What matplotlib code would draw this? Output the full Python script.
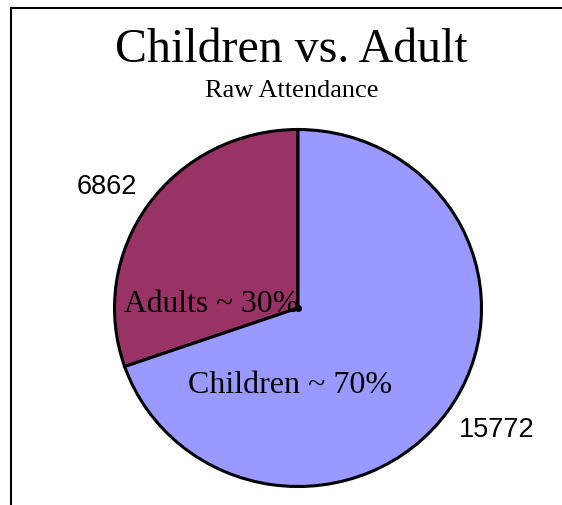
import matplotlib.pyplot as plt
from matplotlib.lines import Line2D

# Data
groups = ["Adults", "Children"]
attendance = [6862, 15772]
colors = ["#993366", "#9999FF"]
inner_labels = ["Adults ~ 30%", "Children ~ 70%"]

W, H = 562, 505
fig = plt.figure(figsize=(W / 100, H / 100), dpi=100)
fig.patch.set_facecolor("white")

# pie centre and radii in pixels (slightly squashed ellipse in the original)
cx, cy, Rx, Ry = 298, 308, 183.5, 178.5
ax = fig.add_axes([(cx - Rx) / W, (H - cy - Ry) / H, 2 * Rx / W, 2 * Ry / H])

wedges, _ = ax.pie(attendance, colors=colors, startangle=90, counterclock=True,
                   wedgeprops=dict(edgecolor="black", linewidth=2.2))
ax.set_aspect("auto")
ax.set_xlim(-1, 1)
ax.set_ylim(-1, 1)
ax.axis("off")

# value labels outside the pie
ax.text(-1.04, 0.68, str(attendance[0]), ha="center", va="center",
        fontsize=19.5, family="Liberation Sans")
ax.text(1.085, -0.685, str(attendance[1]), ha="center", va="center",
        fontsize=19.5, family="Liberation Sans")

# slice labels inside the pie
ax.text(-0.47, -0.022, inner_labels[0], ha="center", va="baseline",
        fontsize=22.8, family="Liberation Serif")
ax.text(-0.044, -0.475, inner_labels[1], ha="center", va="baseline",
        fontsize=23, family="Liberation Serif")
ax.plot([0], [0], "o", color="black", markersize=4)

# titles
fig.text(291 / W, 1 - 62 / H, "Children vs. Adult", ha="center", va="baseline",
         fontsize=34.5, family="Liberation Serif")
fig.text(292 / W, 1 - 97 / H, "Raw Attendance", ha="center", va="baseline",
         fontsize=19, family="Liberation Serif")

# chart border (only top and left edges visible)
fig.add_artist(Line2D([11 / W, 1], [1 - 8 / H, 1 - 8 / H], color="black", linewidth=1.5))
fig.add_artist(Line2D([11 / W, 11 / W], [0, 1 - 8 / H], color="black", linewidth=1.5))

fig.savefig("out.png", dpi=100)
